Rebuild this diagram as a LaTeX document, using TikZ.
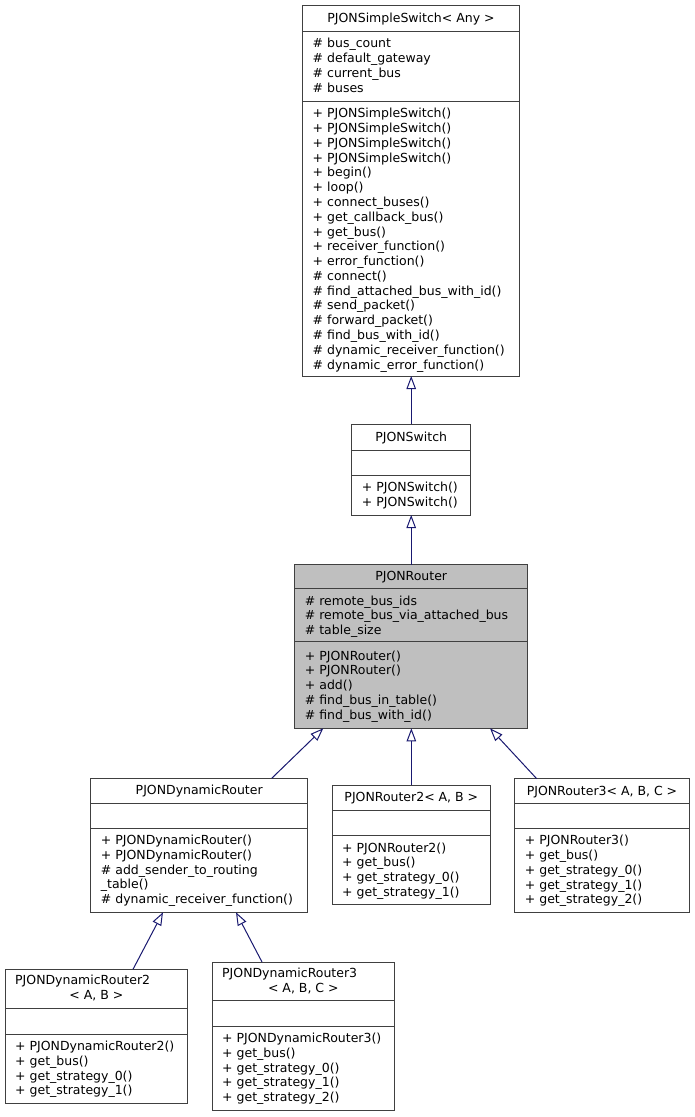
\documentclass[tikz,border=0pt]{standalone}
\usepackage{fontspec}
\setmainfont{DejaVu Sans}
\usetikzlibrary{arrows.meta}
\definecolor{edgecol}{HTML}{191970}
\definecolor{framecol}{HTML}{404040}
\definecolor{hlcol}{HTML}{BFBFBF}
\newcommand\fs{\fontsize{12.5}{14.78}\selectfont}
\newcommand\mylines[1]{\begin{tabular}[t]{@{}l@{}}#1\end{tabular}}
\tikzset{
  cls/.style={draw=framecol, line width=1pt, fill=white, inner sep=0pt, outer sep=0pt, anchor=north west},
  sepline/.style={draw=framecol, line width=1pt},
  txt/.style={inner sep=0pt, anchor=base west, font=\fs},
  ttl/.style={inner sep=0pt, anchor=base, font=\fs},
  inh/.style={draw=edgecol, line width=1pt, -{Triangle[open, length=13pt, width=9.5pt]}},
}
\begin{document}
\begin{tikzpicture}[x=1pt, y=-1pt]
\useasboundingbox[fill=white] (0,0) rectangle (695,1117);

% ---------- PJONSimpleSwitch< Any >
\node[cls, minimum width=217pt, minimum height=370.5pt] (ss) at (302.5,5.5) {};
\draw[sepline] (ss.north west) ++(0,26) -- ++(217,0);
\draw[sepline] (ss.north west) ++(0,96) -- ++(217,0);
\node[ttl] (ssT) at (411,22.5) {PJONSimpleSwitch< Any >};
\node[txt] (ssA) at (312.5,47.8) {\mylines{\# bus\_count\\ \# default\_gateway\\ \# current\_bus\\ \# buses}};
\node[txt] (ssM) at (312.5,117.8) {\mylines{+ PJONSimpleSwitch()\\ + PJONSimpleSwitch()\\ + PJONSimpleSwitch()\\ + PJONSimpleSwitch()\\ + begin()\\ + loop()\\ + connect\_buses()\\ + get\_callback\_bus()\\ + get\_bus()\\ + receiver\_function()\\ + error\_function()\\ \# connect()\\ \# find\_attached\_bus\_with\_id()\\ \# send\_packet()\\ \# forward\_packet()\\ \# find\_bus\_with\_id()\\ \# dynamic\_receiver\_function()\\ \# dynamic\_error\_function()}};

% ---------- PJONSwitch
\node[cls, minimum width=119pt, minimum height=90.7pt] (sw) at (351.7,424.3) {};
\draw[sepline] (sw.north west) ++(0,25.7) -- ++(119,0);
\draw[sepline] (sw.north west) ++(0,51) -- ++(119,0);
\node[ttl] (swT) at (411.2,441.2) {PJONSwitch};
\node[txt] (swM) at (361.7,491.8) {\mylines{+ PJONSwitch()\\ + PJONSwitch()}};

% ---------- PJONRouter
\node[cls, fill=hlcol, minimum width=233pt, minimum height=163.6pt] (rt) at (294.7,564.7) {};
\draw[sepline] (rt.north west) ++(0,24) -- ++(233,0);
\draw[sepline] (rt.north west) ++(0,77) -- ++(233,0);
\node[ttl] (rtT) at (411.2,580.7) {PJONRouter};
\node[txt] (rtA) at (304.7,605) {\mylines{\# remote\_bus\_ids\\ \# remote\_bus\_via\_attached\_bus\\ \# table\_size}};
\node[txt] (rtM) at (304.7,660) {\mylines{+ PJONRouter()\\ + PJONRouter()\\ + add()\\ \# find\_bus\_in\_table()\\ \# find\_bus\_with\_id()}};

% ---------- PJONDynamicRouter
\node[cls, minimum width=217pt, minimum height=134pt] (dr) at (90.7,778.3) {};
\draw[sepline] (dr.north west) ++(0,24.7) -- ++(217,0);
\draw[sepline] (dr.north west) ++(0,50.4) -- ++(217,0);
\node[ttl] (drT) at (199.2,794.7) {PJONDynamicRouter};
\node[txt] (drM) at (100.7,844.6) {\mylines{+ PJONDynamicRouter()\\ + PJONDynamicRouter()\\ \# add\_sender\_to\_routing\\ \_table()\\ \# dynamic\_receiver\_function()}};

% ---------- PJONRouter2< A, B >
\node[cls, minimum width=158.7pt, minimum height=119.4pt] (r2) at (332,785.3) {};
\draw[sepline] (r2.north west) ++(0,25) -- ++(158.7,0);
\draw[sepline] (r2.north west) ++(0,50.4) -- ++(158.7,0);
\node[ttl] (r2T) at (411.35,801.8) {PJONRouter2< A, B >};
\node[txt] (r2M) at (342,852) {\mylines{+ PJONRouter2()\\ + get\_bus()\\ + get\_strategy\_0()\\ + get\_strategy\_1()}};

% ---------- PJONRouter3< A, B, C >
\node[cls, minimum width=174.6pt, minimum height=133.3pt] (r3) at (514.7,778.7) {};
\draw[sepline] (r3.north west) ++(0,24.6) -- ++(174.6,0);
\draw[sepline] (r3.north west) ++(0,50) -- ++(174.6,0);
\node[ttl] (r3T) at (602,795) {PJONRouter3< A, B, C >};
\node[txt] (r3M) at (524.7,844.8) {\mylines{+ PJONRouter3()\\ + get\_bus()\\ + get\_strategy\_0()\\ + get\_strategy\_1()\\ + get\_strategy\_2()}};

% ---------- PJONDynamicRouter2< A, B >
\node[cls, minimum width=182.7pt, minimum height=134pt] (d2) at (5,969.3) {};
\draw[sepline] (d2.north west) ++(0,39) -- ++(182.7,0);
\draw[sepline] (d2.north west) ++(0,65) -- ++(182.7,0);
\node[txt] (d2T) at (15,984.5) {PJONDynamicRouter2};
\node[ttl] (d2U) at (96.35,999.3) {< A, B >};
\node[txt] (d2M) at (15,1050.6) {\mylines{+ PJONDynamicRouter2()\\ + get\_bus()\\ + get\_strategy\_0()\\ + get\_strategy\_1()}};

% ---------- PJONDynamicRouter3< A, B, C >
\node[cls, minimum width=182.7pt, minimum height=148.7pt] (d3) at (212,962) {};
\draw[sepline] (d3.north west) ++(0,38.7) -- ++(182.7,0);
\draw[sepline] (d3.north west) ++(0,64.7) -- ++(182.7,0);
\node[txt] (d3T) at (222,977.3) {PJONDynamicRouter3};
\node[ttl] (d3U) at (303.35,992) {< A, B, C >};
\node[txt] (d3M) at (222,1042.5) {\mylines{+ PJONDynamicRouter3()\\ + get\_bus()\\ + get\_strategy\_0()\\ + get\_strategy\_1()\\ + get\_strategy\_2()}};

% ---------- inheritance connectors
\draw[inh] (sw.north) -- (sw.north |- ss.south);
\draw[inh] (rt.north) -- (rt.north |- sw.south);
\draw[inh] ([xshift=181pt]dr.north west) -- ([xshift=28.6pt]rt.south west);
\draw[inh] (r2.north) -- (r2.north |- rt.south);
\draw[inh] ([xshift=22pt]r3.north west) -- ([xshift=195.3pt]rt.south west);
\draw[inh] ([xshift=128pt]d2.north west) -- ([xshift=72.3pt]dr.south west);
\draw[inh] ([xshift=50pt]d3.north west) -- ([xshift=145.3pt]dr.south west);
\end{tikzpicture}
\end{document}
